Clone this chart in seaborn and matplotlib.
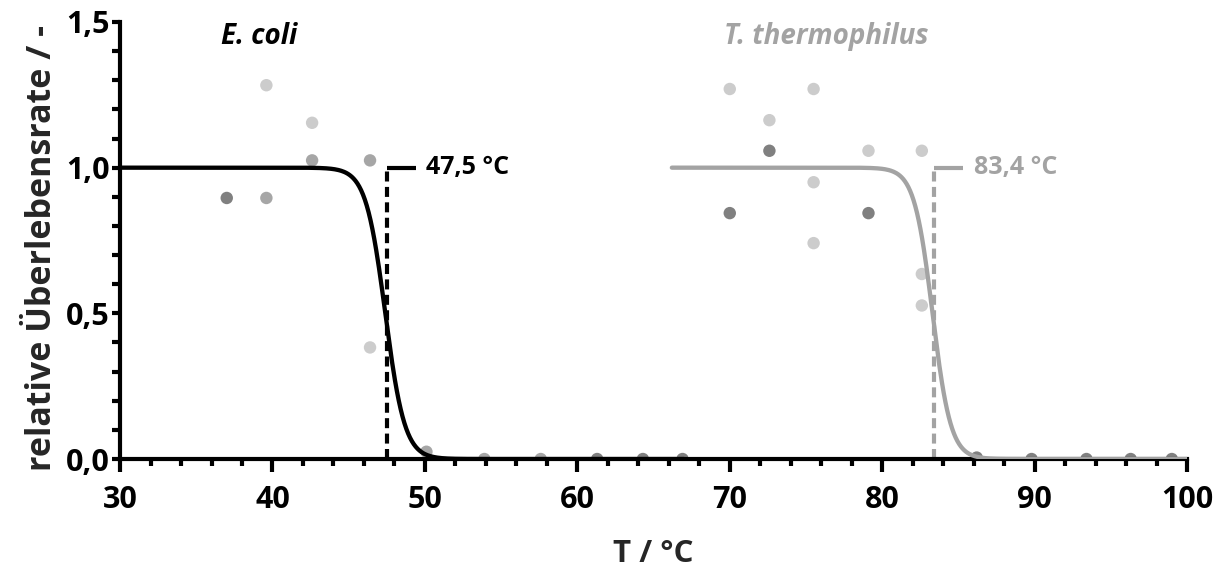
import numpy as np
import pandas as pd
import seaborn as sns
import matplotlib.pyplot as plt
from matplotlib.ticker import MultipleLocator, FuncFormatter

# measured survival rates (n = number of overlapping replicates at that spot)
ecoli_T = [37.0, 39.6, 39.6, 42.6, 42.6, 46.4, 46.4, 50.1, 53.9, 57.6, 61.3, 64.3, 66.9]
ecoli_rate = [0.896, 1.283, 0.896, 1.154, 1.025, 1.025, 0.383, 0.025, 0.0, 0.0, 0.0, 0.0, 0.0]
ecoli_n = [3, 1, 2, 1, 2, 2, 1, 2, 2, 2, 3, 3, 3]

tth_T = [70.0, 70.0, 72.6, 72.6, 75.5, 75.5, 75.5, 79.1, 79.1, 82.6, 82.6, 82.6,
         86.2, 89.8, 93.4, 96.3, 99.0]
tth_rate = [1.270, 0.844, 1.163, 1.058, 1.270, 0.950, 0.741, 1.058, 0.844, 1.058, 0.635, 0.527,
            0.005, 0.0, 0.0, 0.0, 0.0]
tth_n = [1, 3, 1, 3, 1, 1, 1, 1, 3, 1, 1, 1, 3, 3, 3, 3, 3]

# sigmoid fit parameters: midpoint, slope, fitted range
ecoli_fit = dict(x0=47.4, k=0.64, start=30.0, stop=67.0)
tth_fit = dict(x0=83.3, k=0.60, start=66.2, stop=100.0)
ecoli_label = 47.5
tth_label = 83.4

BLACK = "#000000"
GREY = "#a3a3a3"
shades = {1: "#cccccc", 2: "#a6a6a6", 3: "#808080"}

sns.set_style("ticks")
plt.rcParams["font.family"] = ["Open Sans", "DejaVu Sans"]
plt.rcParams["font.weight"] = "bold"


def sigmoid(fit):
    x = np.linspace(fit["start"], fit["stop"], 600)
    return pd.DataFrame({"T": x, "rate": 1 / (1 + np.exp((x - fit["x0"]) / fit["k"]))})


fig = plt.figure(figsize=(12.2, 5.74), dpi=100)
ax = fig.add_axes([0.0984, 0.2003, 0.8746, 0.7614])

pts = pd.concat([
    pd.DataFrame({"T": ecoli_T, "rate": ecoli_rate, "n": ecoli_n}),
    pd.DataFrame({"T": tth_T, "rate": tth_rate, "n": tth_n}),
])
sns.scatterplot(data=pts, x="T", y="rate", hue="n", palette=shades, s=80,
                linewidth=0, legend=False, ax=ax, zorder=1)

sns.lineplot(data=sigmoid(ecoli_fit), x="T", y="rate", color=BLACK, lw=3.1, ax=ax, zorder=3)
sns.lineplot(data=sigmoid(tth_fit), x="T", y="rate", color=GREY, lw=3.1, ax=ax, zorder=3)

# melting point markers
for tm, col in [(ecoli_label, BLACK), (tth_label, GREY)]:
    ax.plot([tm, tm], [0, 1.0], color=col, lw=3, ls=(0, (2.4, 1.3)), zorder=2)
    ax.plot([tm, tm + 1.9], [1.0, 1.0], color=col, lw=3, solid_capstyle="butt", zorder=2)
    ax.text(tm + 2.6, 1.0, f"{tm:.1f} °C".replace(".", ","), color=col, fontsize=18,
            fontweight="bold", va="center", ha="left")

ax.text(36.6, 1.45, "E. coli", color=BLACK, fontsize=20, fontweight="bold",
        fontstyle="italic", va="center", ha="left")
ax.text(69.6, 1.45, "T. thermophilus", color=GREY, fontsize=20, fontweight="bold",
        fontstyle="italic", va="center", ha="left")

ax.set_xlim(30, 100)
ax.set_ylim(0, 1.5)
ax.xaxis.set_major_locator(MultipleLocator(10))
ax.xaxis.set_minor_locator(MultipleLocator(2))
ax.yaxis.set_major_locator(MultipleLocator(0.5))
ax.yaxis.set_minor_locator(MultipleLocator(0.1))
ax.yaxis.set_major_formatter(FuncFormatter(lambda v, p: f"{v:.1f}".replace(".", ",")))

sns.despine(ax=ax)
for side in ["left", "bottom"]:
    ax.spines[side].set_linewidth(3)
    ax.spines[side].set_color(BLACK)
ax.tick_params(which="both", direction="out", width=3, color=BLACK,
               labelsize=22, labelcolor=BLACK)
ax.tick_params(axis="x", which="major", length=9, pad=10)
ax.tick_params(axis="x", which="minor", length=5)
ax.tick_params(axis="y", which="both", length=5.5, pad=2)
for lab in ax.get_xticklabels() + ax.get_yticklabels():
    lab.set_fontweight("bold")

ax.set_xlabel("T / °C", fontsize=22.5, fontweight="bold", labelpad=17)
ax.set_ylabel("relative Überlebensrate / -", fontsize=24.5, fontweight="bold")
ax.yaxis.set_label_coords(-0.057, 0.483)

fig.savefig("out.png", dpi=100)
